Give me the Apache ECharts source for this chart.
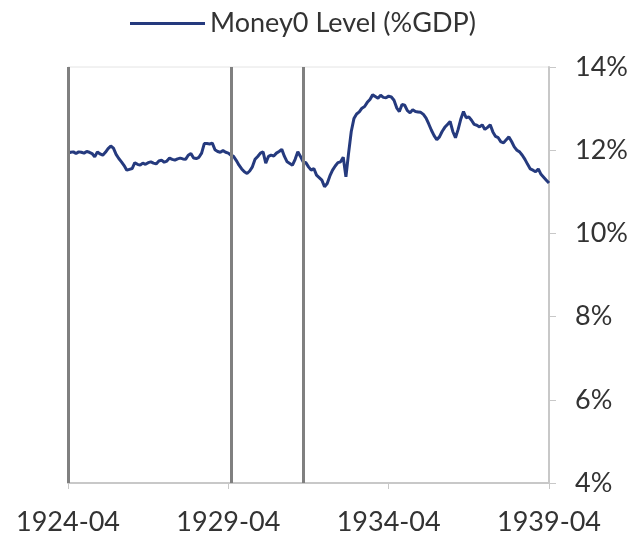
<!DOCTYPE html>
<html>
<head>
<meta charset="utf-8">
<script src="https://cdn.jsdelivr.net/npm/echarts@6/dist/echarts.min.js"></script>
<style>
  html, body { margin: 0; padding: 0; background: #fff; }
  #main { width: 634px; height: 539px; }
</style>
</head>
<body>
<div id="main"></div>
<script>
// monthly, 1924-04 .. 1939-04
var months = [];
for (var y = 1924; y <= 1939; y++) {
  for (var m = 1; m <= 12; m++) {
    if ((y === 1924 && m < 4) || (y === 1939 && m > 4)) continue;
    months.push(y + '-' + (m < 10 ? '0' + m : m));
  }
}

var money0 = [
  11.93, 11.95, 11.96, 11.92, 11.96, 11.95, 11.93, 11.97, 11.95, 11.92,
  11.84, 11.96, 11.91, 11.88, 11.95, 12.04, 12.10, 12.05, 11.90, 11.80,
  11.72, 11.63, 11.52, 11.54, 11.56, 11.70, 11.66, 11.64, 11.69, 11.66,
  11.70, 11.72, 11.69, 11.67, 11.74, 11.76, 11.71, 11.74, 11.81, 11.78,
  11.76, 11.79, 11.81, 11.79, 11.78, 11.88, 11.92, 11.81, 11.80, 11.83,
  11.93, 12.16, 12.16, 12.15, 12.17, 12.01, 11.97, 11.95, 11.99, 11.95,
  11.93, 11.88, 11.85, 11.75, 11.64, 11.55, 11.48, 11.44, 11.50, 11.60,
  11.78, 11.85, 11.93, 11.96, 11.69, 11.85, 11.88, 11.86, 11.93, 11.97,
  12.02, 11.85, 11.72, 11.68, 11.64, 11.78, 11.96, 11.85, 11.72, 11.70,
  11.60, 11.52, 11.56, 11.40, 11.34, 11.28, 11.12, 11.20, 11.38, 11.52,
  11.62, 11.70, 11.72, 11.83, 11.36, 11.93, 12.45, 12.76, 12.87, 12.92,
  13.01, 13.05, 13.15, 13.22, 13.33, 13.29, 13.25, 13.32, 13.27, 13.26,
  13.30, 13.28, 13.20, 13.02, 12.93, 13.10, 13.08, 12.95, 12.90, 12.97,
  12.93, 12.92, 12.91, 12.86, 12.77, 12.63, 12.48, 12.35, 12.25, 12.32,
  12.45, 12.55, 12.62, 12.69, 12.45, 12.30, 12.50, 12.75, 12.93, 12.78,
  12.80, 12.72, 12.62, 12.60, 12.56, 12.61, 12.50, 12.55, 12.61, 12.44,
  12.33, 12.30, 12.20, 12.18, 12.25, 12.32, 12.21, 12.08, 12.00, 11.96,
  11.88, 11.78, 11.66, 11.55, 11.52, 11.48, 11.55, 11.42, 11.35, 11.28,
  11.21
];

var markerMonths = ['1924-04', '1929-05', '1931-08'];
var yTicks = { min: 4, max: 14, step: 2 };

var chart = echarts.init(document.getElementById('main'));
chart.setOption({
  animation: false,
  textStyle: { fontFamily: 'Lato, "Open Sans", sans-serif' },
  legend: {
    top: 5,
    left: 125,
    icon: 'rect',
    itemWidth: 75,
    itemHeight: 3,
    itemGap: 6,
    textStyle: { fontSize: 27, color: '#333' },
    data: ['Money0 Level (%GDP)']
  },
  grid: {
    left: 68, right: 85, top: 67, bottom: 56,
    show: true, borderColor: '#e4e4e4', borderWidth: 1
  },
  xAxis: {
    type: 'category',
    data: months,
    boundaryGap: false,
    axisLine: { lineStyle: { color: '#c8c8c8', width: 2 } },
    axisTick: { interval: 59, length: 6, lineStyle: { color: '#c8c8c8' } },
    axisLabel: { interval: 59, fontSize: 27, color: '#333', margin: 26 },
    splitLine: { show: false }
  },
  yAxis: {
    type: 'value',
    position: 'right',
    min: yTicks.min, max: yTicks.max, interval: yTicks.step,
    axisLine: { show: true, lineStyle: { color: '#c8c8c8', width: 2 } },
    axisTick: { show: true, length: 7, lineStyle: { color: '#c8c8c8' } },
    axisLabel: { formatter: '{value}%', fontSize: 27, color: '#333', margin: 26 },
    splitLine: { show: false }
  },
  series: [{
    name: 'Money0 Level (%GDP)',
    type: 'line',
    data: money0,
    symbol: 'none',
    color: '#253a7e',
    lineStyle: { width: 3, color: '#253a7e' },
    markLine: {
      silent: true,
      symbol: 'none',
      label: { show: false },
      lineStyle: { color: '#808080', width: 3, type: 'solid' },
      data: markerMonths.map(function (d) { return { xAxis: d }; })
    }
  }]
});
</script>
</body>
</html>
